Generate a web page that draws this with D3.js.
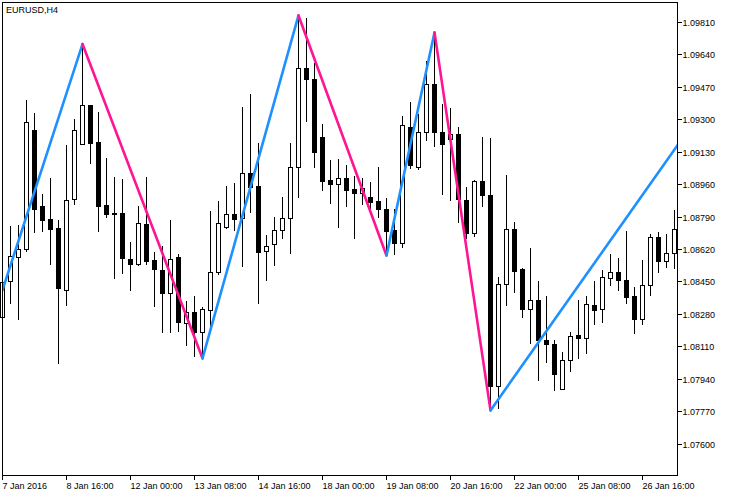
<!DOCTYPE html>
<html>
<head>
<meta charset="utf-8">
<script src="https://cdn.jsdelivr.net/npm/d3@7"></script>
<style>
  html, body { margin: 0; padding: 0; background: #fff; }
  svg { display: block; }
  text { font-family: "Liberation Sans", Arial, sans-serif; font-size: 9px; fill: #000; }
</style>
</head>
<body>
<svg id="chart" width="729" height="496"></svg>
<script>
// ---- data (EURUSD, H4) ----
const symbolTitle = "EURUSD,H4";
const opens = [1.08269,1.08454,1.08583,1.08622,1.09245,1.08849,1.08780,1.08733,1.08407,1.08884,
  1.09172,1.09378,1.09184,1.08854,1.08814,1.08814,1.08571,1.08546,1.08754,1.08566,
  1.08513,1.08390,1.08583,1.08237,1.08292,1.08190,1.08304,1.08501,1.08739,1.08807,
  1.08784,1.09020,1.08953,1.08611,1.08648,1.08724,1.08784,1.09051,1.09570,1.09512,
  1.09210,1.08985,1.08962,1.08994,1.08938,1.08915,1.08896,1.08875,1.08833,1.08723,
  1.08656,1.09263,1.09051,1.09238,1.09486,1.09236,1.09200,1.09224,1.08880,1.08706,
  1.08980,1.08908,1.07907,1.08438,1.08728,1.08517,1.08310,1.08356,1.08146,1.08125,
  1.07888,1.08042,1.08173,1.08155,1.08330,1.08307,1.08473,1.08501,1.08461,1.08377,
  1.08258,1.08433,1.08685,1.08562,1.08601];
const highs = [1.08466,1.08745,1.08749,1.09404,1.09334,1.08910,1.08994,1.08775,1.09168,1.09304,
  1.09697,1.09378,1.09340,1.09100,1.08999,1.08988,1.08658,1.08849,1.08999,1.08606,
  1.08639,1.08774,1.08597,1.08351,1.08377,1.08321,1.08824,1.08875,1.08952,1.08969,
  1.09367,1.09434,1.09177,1.08697,1.08791,1.08896,1.09177,1.09847,1.09832,1.09596,
  1.09277,1.09090,1.09095,1.09063,1.09006,1.08994,1.08973,1.09055,1.08889,1.08833,
  1.09320,1.09392,1.09329,1.09608,1.09758,1.09381,1.09360,1.09263,1.08947,1.08985,
  1.09212,1.09207,1.08475,1.09011,1.08765,1.08522,1.08627,1.08456,1.08377,1.08146,
  1.08085,1.08190,1.08356,1.08377,1.08457,1.08513,1.08595,1.08575,1.08719,1.08423,
  1.08566,1.08702,1.08714,1.08702,1.08828];
const lows = [1.08251,1.08342,1.08258,1.08614,1.08714,1.08719,1.08546,1.08028,1.08331,1.08858,
  1.09171,1.09075,1.08719,1.08793,1.08473,1.08499,1.08410,1.08541,1.08545,1.08326,
  1.08190,1.08190,1.08195,1.08120,1.08063,1.08050,1.08188,1.08492,1.08732,1.08723,
  1.08534,1.08819,1.08342,1.08461,1.08539,1.08683,1.08604,1.08897,1.09295,1.09051,
  1.08932,1.08866,1.08740,1.08850,1.08683,1.08858,1.08840,1.08789,1.08589,1.08595,
  1.08635,1.09046,1.09042,1.09194,1.09165,1.08911,1.08880,1.08766,1.08679,1.08691,
  1.08850,1.07777,1.07792,1.08330,1.08400,1.08269,1.08129,1.07937,1.08033,1.07884,
  1.07887,1.07984,1.08054,1.08080,1.08232,1.08242,1.08435,1.08408,1.08339,1.08185,
  1.08229,1.08382,1.08504,1.08527,1.08525];
const closes = [1.08452,1.08585,1.08622,1.09287,1.08834,1.08775,1.08728,1.08421,1.08878,1.09245,
  1.09376,1.09180,1.08850,1.08808,1.08808,1.08578,1.08543,1.08760,1.08562,1.08516,
  1.08390,1.08569,1.08242,1.08292,1.08190,1.08307,1.08503,1.08760,1.08807,1.08782,
  1.09020,1.08950,1.08609,1.08637,1.08721,1.08784,1.09055,1.09570,1.09512,1.09133,
  1.08981,1.08962,1.08994,1.08932,1.08915,1.08941,1.08868,1.08833,1.08719,1.08656,
  1.09271,1.09063,1.09235,1.09486,1.09235,1.09175,1.09223,1.08884,1.08709,1.08980,
  1.08905,1.07907,1.08438,1.08728,1.08510,1.08310,1.08356,1.08146,1.08124,1.07967,
  1.08042,1.08169,1.08155,1.08334,1.08302,1.08475,1.08501,1.08461,1.08373,1.08258,
  1.08433,1.08685,1.08562,1.08601,1.08727];
// ZigZag vertices: bar index and price
const zzBars   = [0,       10,      25,      37,      48,      54,      61,      86];
const zzPrices = [1.08408, 1.09697, 1.08050, 1.09847, 1.08589, 1.09758, 1.07777, 1.09263];
// axis labels
const priceTicks = [1.09810,1.09640,1.09470,1.09300,1.09130,1.08960,1.08790,1.08620,1.08450,1.08280,1.08110,1.07940,1.07770,1.07600];
const timeTickBars = [0,8,16,24,32,40,48,56,64,72,80];
const timeLabels = ["7 Jan 2016","8 Jan 16:00","12 Jan 00:00","13 Jan 08:00","14 Jan 16:00","18 Jan 00:00","19 Jan 08:00","20 Jan 16:00","22 Jan 00:00","25 Jan 08:00","26 Jan 16:00"];

// ---- layout ----
const L = 2, T = 2, R = 677, B = 476;
const svg = d3.select("#chart");
const x = d3.scaleLinear().domain([0, 84]).range([2.5, 674.5]);
const y = d3.scaleLinear().domain([1.074332, 1.099174]).range([B, T]);

svg.append("rect").attr("width", 729).attr("height", 496).attr("fill", "#fff");

// candles
const candles = svg.append("g").attr("shape-rendering", "crispEdges");
const data = opens.map((o, i) => ({i, o, h: highs[i], l: lows[i], c: closes[i]}));
data.forEach(d => {
  const cx = x(d.i);
  const yh = Math.round(y(d.h)), yl = Math.round(y(d.l));
  const yt = Math.round(y(Math.max(d.o, d.c))), yb = Math.round(y(Math.min(d.o, d.c)));
  candles.append("rect").attr("x", cx - 0.5).attr("y", yh).attr("width", 1).attr("height", Math.max(1, yl - yh + 1)).attr("fill", "#000");
  if (d.c >= d.o) {
    candles.append("rect").attr("x", cx - 2).attr("y", yt + 0.5).attr("width", 4).attr("height", Math.max(0, yb - yt))
      .attr("fill", "#fff").attr("stroke", "#000").attr("stroke-width", 1);
  } else {
    candles.append("rect").attr("x", cx - 2.5).attr("y", yt).attr("width", 5).attr("height", Math.max(1, yb - yt + 1)).attr("fill", "#000");
  }
});

// zigzag
svg.append("clipPath").attr("id", "plotclip").append("rect")
  .attr("x", L).attr("y", T).attr("width", R - L).attr("height", B - T);
const zz = svg.append("g").attr("clip-path", "url(#plotclip)");
for (let j = 0; j < zzBars.length - 1; j++) {
  const up = zzPrices[j + 1] > zzPrices[j];
  zz.append("line")
    .attr("x1", x(zzBars[j])).attr("y1", y(zzPrices[j]))
    .attr("x2", x(zzBars[j + 1])).attr("y2", y(zzPrices[j + 1]))
    .attr("stroke", up ? "#1E90FF" : "#FF1493")
    .attr("stroke-width", 2.6).attr("stroke-linecap", "round");
}

// frame
svg.append("rect").attr("x", L + 0.5).attr("y", T + 0.5).attr("width", R - L).attr("height", B - T - 1)
  .attr("fill", "none").attr("stroke", "#000").attr("stroke-width", 1).attr("shape-rendering", "crispEdges");

// right price axis
const yAxis = d3.axisRight(y).tickValues(priceTicks).tickSize(4).tickFormat(d3.format(".5f")).offset(0);
const gy = svg.append("g").attr("transform", `translate(${R + 0.5},0)`).call(yAxis);
gy.select(".domain").remove();
gy.selectAll("line").attr("stroke", "#000").attr("shape-rendering", "crispEdges");
gy.selectAll("text").attr("x", 5).attr("dy", null).attr("y", 3.5)
  .style("font-family", "'Liberation Sans', Arial, sans-serif").style("font-size", "9px").attr("fill", "#000");

// bottom time axis
const xAxis = d3.axisBottom(x).tickValues(timeTickBars).tickSize(4)
  .tickFormat((d, i) => timeLabels[i]).offset(0);
const gx = svg.append("g").attr("transform", `translate(0,${B - 0.5})`).call(xAxis);
gx.select(".domain").remove();
gx.selectAll("line").attr("stroke", "#000").attr("shape-rendering", "crispEdges");
gx.selectAll("text").attr("text-anchor", "start").attr("x", 0).attr("dy", null).attr("y", 13.5)
  .style("font-family", "'Liberation Sans', Arial, sans-serif").style("font-size", "9px").attr("fill", "#000");

// title
svg.append("text").attr("x", 6).attr("y", 12.7).text(symbolTitle);
</script>
</body>
</html>
